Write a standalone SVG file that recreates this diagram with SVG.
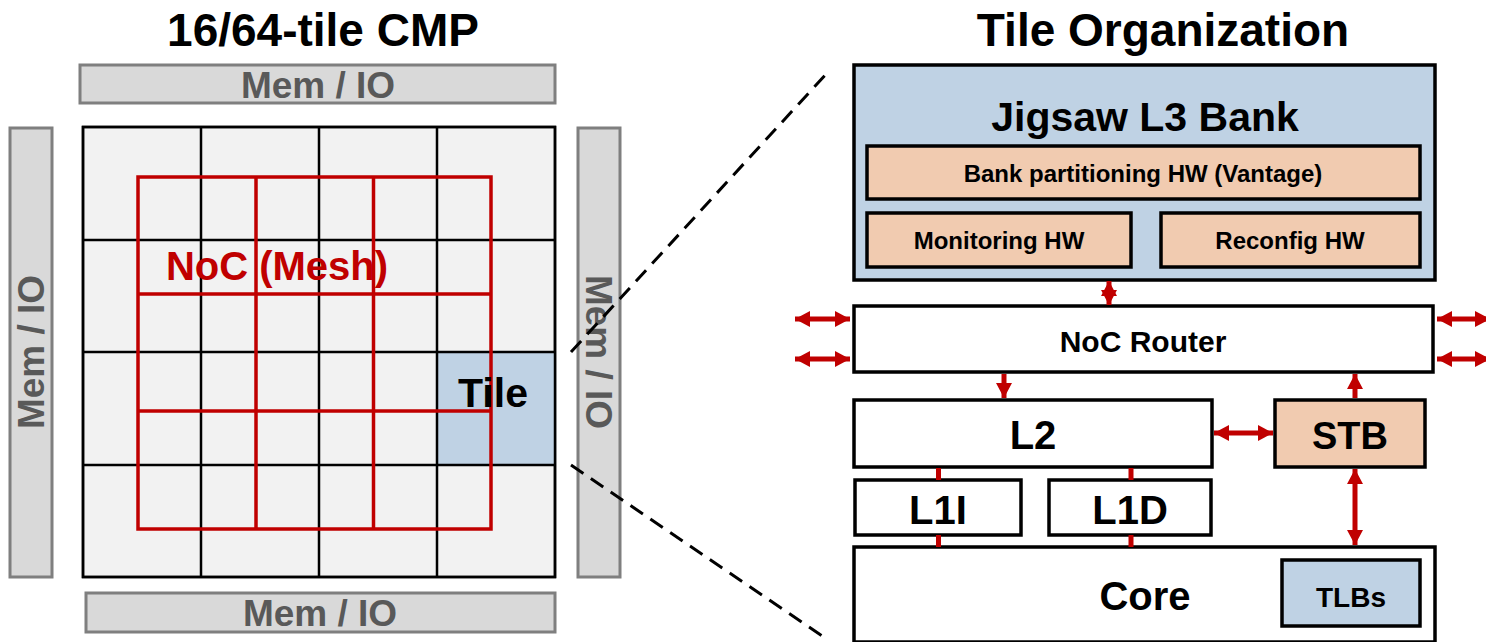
<svg xmlns="http://www.w3.org/2000/svg" width="1486" height="642" viewBox="0 0 1486 642">
  <style>
    text { font-family: "Liberation Sans", Arial, sans-serif; font-weight: bold; text-anchor: middle; }
    .title { font-size: 46px; fill: #000; }
    .bar { fill: #d9d9d9; stroke: #7f7f7f; stroke-width: 3; }
    .bartxt { font-size: 37px; fill: #595959; }
    .cell { fill: #f2f2f2; stroke: #000; stroke-width: 2.5; }
    .mesh { fill: none; stroke: #c00000; stroke-width: 3.5; }
    .box { fill: #fff; stroke: #000; stroke-width: 3.5; }
    .blue { fill: #bfd2e4; stroke: #000; stroke-width: 3.5; }
    .peach { fill: #f1cbb0; stroke: #000; stroke-width: 3.5; }
    .arrow { stroke: #c00000; stroke-width: 5; fill: none; }
    .dash { stroke: #000; stroke-width: 3; stroke-dasharray: 15 9; fill: none; }
  </style>
  <defs>
    <marker id="head" viewBox="0 0 15 16" refX="15" refY="8" markerWidth="15" markerHeight="16" markerUnits="userSpaceOnUse" orient="auto-start-reverse">
      <path d="M0,0 L15,8 L0,16 z" fill="#c00000"/>
    </marker>
  </defs>

  <!-- Titles -->
  <text class="title" x="323" y="46">16/64-tile CMP</text>
  <text class="title" x="1163" y="46">Tile Organization</text>

  <!-- Memory / IO bars round the chip -->
  <g id="mem-top">
    <rect class="bar" x="80" y="65" width="475" height="38"/>
    <text class="bartxt" x="318" y="98">Mem / IO</text>
  </g>
  <g id="mem-bottom">
    <rect class="bar" x="86" y="593" width="469" height="39"/>
    <text class="bartxt" x="320" y="626">Mem / IO</text>
  </g>
  <g id="mem-left">
    <rect class="bar" x="10" y="128" width="42" height="449"/>
    <text class="bartxt" transform="translate(44,352) rotate(-90)" x="0" y="0">Mem / IO</text>
  </g>
  <g id="mem-right">
    <rect class="bar" x="578" y="128" width="42" height="449"/>
    <text class="bartxt" transform="translate(586,352) rotate(90)" x="0" y="0">Mem / IO</text>
  </g>

  <!-- 4x4 tile grid -->
  <g id="chip">
    <rect class="cell" x="83" y="127" width="472" height="450"/>
    <rect x="437" y="352" width="118" height="113" fill="#bfd2e4"/>
    <path d="M201,127V577 M319,127V577 M437,127V577 M83,240H555 M83,352H555 M83,465H555" stroke="#000" stroke-width="2.5" fill="none"/>
    <rect x="83" y="127" width="472" height="450" fill="none" stroke="#000" stroke-width="2.5"/>
  </g>

  <!-- NoC mesh -->
  <g id="noc-mesh">
    <rect class="mesh" x="138" y="177" width="353" height="352"/>
    <path class="mesh" d="M256,177V529 M373.5,177V529 M138,294H491 M138,411H491"/>
    <text x="277" y="280" style="font-size:40px; fill:#c00000">NoC (Mesh)</text>
  </g>

  <g id="tile">
    <text x="493" y="407" style="font-size:41px; fill:#000">Tile</text>
  </g>

  <!-- Zoom-in guide lines -->
  <g id="guides">
    <line class="dash" x1="571" y1="352" x2="828" y2="72"/>
    <line class="dash" x1="571" y1="465" x2="828" y2="640"/>
  </g>

  <!-- Tile organization -->
  <g id="l3-bank">
    <rect class="blue" x="854" y="65" width="581" height="215"/>
    <text x="1145" y="131" style="font-size:41px">Jigsaw L3 Bank</text>
  </g>
  <g id="bank-partitioning">
    <rect class="peach" x="867" y="146" width="553" height="53"/>
    <text x="1143" y="182" style="font-size:24px">Bank partitioning HW (Vantage)</text>
  </g>
  <g id="monitoring">
    <rect class="peach" x="867" y="213" width="264" height="54"/>
    <text x="999" y="249" style="font-size:24px">Monitoring HW</text>
  </g>
  <g id="reconfig">
    <rect class="peach" x="1161" y="213" width="259" height="54"/>
    <text x="1290" y="249" style="font-size:24px">Reconfig HW</text>
  </g>
  <g id="noc-router">
    <rect class="box" x="854" y="306" width="579" height="66"/>
    <text x="1143" y="352" style="font-size:30px">NoC Router</text>
  </g>
  <g id="l2">
    <rect class="box" x="854" y="400" width="358" height="67"/>
    <text x="1033" y="449" style="font-size:40px">L2</text>
  </g>
  <g id="stb">
    <rect class="peach" x="1275" y="400" width="150" height="67"/>
    <text x="1350" y="449" style="font-size:38px">STB</text>
  </g>
  <g id="l1i">
    <rect class="box" x="855" y="480" width="166" height="55"/>
    <text x="938" y="524" style="font-size:40px">L1I</text>
  </g>
  <g id="l1d">
    <rect class="box" x="1049" y="480" width="162" height="55"/>
    <text x="1130" y="524" style="font-size:40px">L1D</text>
  </g>
  <g id="core">
    <rect class="box" x="854" y="547" width="581" height="95"/>
    <text x="1145" y="610" style="font-size:40px">Core</text>
  </g>
  <g id="tlbs">
    <rect class="blue" x="1282" y="560" width="138" height="66"/>
    <text x="1351" y="607" style="font-size:28px">TLBs</text>
  </g>

  <!-- Connectors -->
  <g id="connectors">
    <line class="arrow" x1="1109" y1="281" x2="1109" y2="305" marker-start="url(#head)" marker-end="url(#head)"/>
    <line class="arrow" x1="795" y1="319" x2="850" y2="319" marker-start="url(#head)" marker-end="url(#head)"/>
    <line class="arrow" x1="795" y1="359" x2="850" y2="359" marker-start="url(#head)" marker-end="url(#head)"/>
    <line class="arrow" x1="1437" y1="319" x2="1490" y2="319" marker-start="url(#head)" marker-end="url(#head)"/>
    <line class="arrow" x1="1437" y1="359" x2="1490" y2="359" marker-start="url(#head)" marker-end="url(#head)"/>
    <line class="arrow" x1="1004" y1="374" x2="1004" y2="398" marker-end="url(#head)"/>
    <line class="arrow" x1="1355" y1="398" x2="1355" y2="374" marker-end="url(#head)"/>
    <line class="arrow" x1="1214" y1="433" x2="1273" y2="433" marker-start="url(#head)" marker-end="url(#head)"/>
    <line class="arrow" x1="1355" y1="469" x2="1355" y2="545" marker-start="url(#head)" marker-end="url(#head)"/>
    <path class="arrow" d="M938.5,468V480 M938.5,535V547 M1131,468V480 M1131,535V547"/>
  </g>
</svg>
